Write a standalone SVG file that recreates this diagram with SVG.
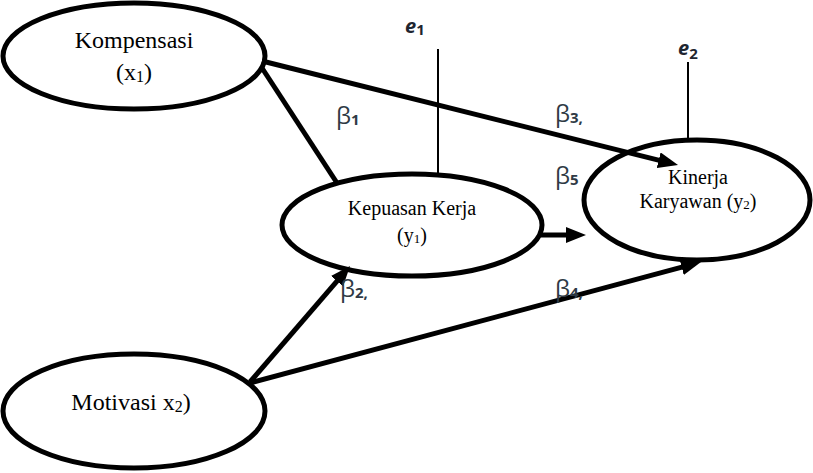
<svg xmlns="http://www.w3.org/2000/svg" width="813" height="473" viewBox="0 0 813 473">
<style>
.node{fill:#fff;stroke:#000;stroke-width:5}
.lbl{font-family:"Liberation Serif","Times New Roman",serif;fill:#000;text-anchor:middle}
.conn{stroke:#000;stroke-width:5;fill:none}
.thin{stroke:#000;stroke-width:2;fill:none}
.beta{font-family:"Open Sans","Noto Sans",sans-serif;font-size:24px;fill:#2f3a45}
.sub{font-size:15px;font-weight:bold}
.err{font-family:"Open Sans","Noto Sans",sans-serif;font-size:20px;font-style:italic;font-weight:bold;fill:#1e2530}
</style>
<defs>
<marker id="ah" viewBox="0 0 20 16" refX="8" refY="8" markerWidth="20" markerHeight="16" markerUnits="userSpaceOnUse" orient="auto">
<path d="M0,0 L20,8 L0,16 Z" fill="#000"/>
</marker>
</defs>
<g id="kompensasi">
<ellipse class="node" cx="134" cy="56" rx="131" ry="53"/>
<text class="lbl" x="134" y="48" font-size="24">Kompensasi</text>
<text class="lbl" x="134" y="80" font-size="24">(x<tspan font-size="16" dy="2">1</tspan><tspan dy="-2">)</tspan></text>
</g>
<g id="kepuasan">
<ellipse class="node" cx="412" cy="225" rx="130" ry="51"/>
<text class="lbl" x="412" y="215" font-size="20">Kepuasan Kerja</text>
<text class="lbl" x="412" y="242" font-size="20">(y<tspan font-size="13" dy="1">1</tspan><tspan dy="-1">)</tspan></text>
</g>
<g id="kinerja">
<ellipse class="node" cx="697" cy="200" rx="113" ry="60"/>
<text class="lbl" x="698" y="184" font-size="20">Kinerja</text>
<text class="lbl" x="698" y="208" font-size="20">Karyawan (y<tspan font-size="13" dy="1">2</tspan><tspan dy="-1">)</tspan></text>
</g>
<g id="motivasi">
<ellipse class="node" cx="134" cy="411" rx="131" ry="57"/>
<text class="lbl" x="131" y="410" font-size="24">Motivasi x<tspan font-size="16" dy="2">2</tspan><tspan dy="-2">)</tspan></text>
</g>
<g id="connectors">
<line class="thin" x1="438" y1="49" x2="438" y2="173"/>
<line class="thin" x1="688" y1="62" x2="688" y2="140"/>
<line class="conn" x1="262" y1="68" x2="337" y2="183"/>
<line class="conn" x1="262" y1="61" x2="666.4" y2="162.1" marker-end="url(#ah)"/>
<line class="conn" x1="250" y1="382" x2="342.2" y2="275.1" marker-end="url(#ah)"/>
<line class="conn" x1="250" y1="383" x2="689.4" y2="265.1" marker-end="url(#ah)"/>
<line class="conn" x1="541" y1="235" x2="574" y2="235" marker-end="url(#ah)"/>
</g>
<g id="labels">
<text class="err" x="405" y="33">e<tspan class="sub" font-style="normal" font-size="15" dy="2">1</tspan></text>
<text class="err" x="678" y="55" font-weight="normal">e<tspan font-style="normal" font-size="15" dy="4">2</tspan></text>
<text class="beta" x="336" y="124">β<tspan class="sub" dy="1">1</tspan></text>
<text class="beta" x="555" y="122">β<tspan class="sub" dy="1">3,</tspan></text>
<text class="beta" x="555" y="184">β<tspan class="sub" dy="1">5</tspan></text>
<text class="beta" x="340" y="297">β<tspan class="sub" dy="1">2,</tspan></text>
<text class="beta" x="555" y="297">β<tspan class="sub" dy="1">4,</tspan></text>
</g>
</svg>
